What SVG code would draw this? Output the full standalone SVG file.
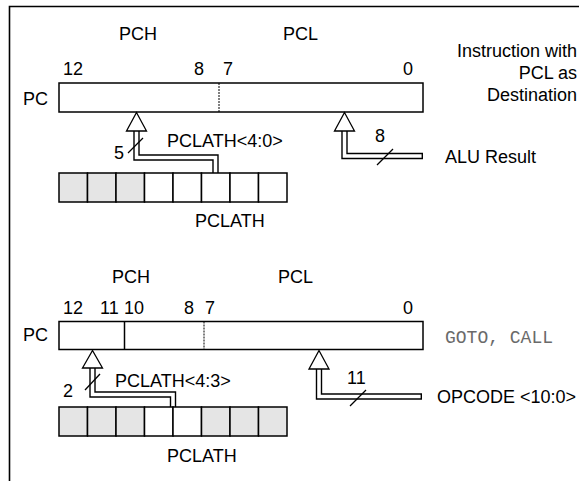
<svg xmlns="http://www.w3.org/2000/svg" width="579" height="481" viewBox="0 0 579 481">
<style>
text{font-family:"Liberation Sans",Arial,sans-serif;font-size:18px;fill:#000}
.mono{font-family:"Liberation Mono","Courier New",monospace;font-size:18px;fill:#6a6a6a}
.box{fill:#fff;stroke:#000;stroke-width:1.5}
.g{fill:#e5e5e5;stroke:#000;stroke-width:1.5}
.w{fill:#fff;stroke:#000;stroke-width:1.5}
.dash{stroke:#000;stroke-width:1;stroke-dasharray:2 1}
.busO{fill:none;stroke:#000;stroke-width:6.4;stroke-linejoin:miter}
.busI{fill:none;stroke:#fff;stroke-width:3.6;stroke-linejoin:miter}
.tri{fill:#fff;stroke:#000;stroke-width:1.3;stroke-linejoin:miter}
.sl{stroke:#000;stroke-width:1.3}
.frame{stroke:#000;stroke-width:1.6;fill:none}
</style>
<path class="frame" d="M9.5,481 V6.5 H579"/>

<g id="top-labels">
<text x="119" y="40">PCH</text>
<text x="283" y="40">PCL</text>
<text x="63" y="75">12</text>
<text x="194" y="75">8</text>
<text x="223" y="75">7</text>
<text x="403" y="75">0</text>
<text x="23" y="105">PC</text>
<text x="577" y="57" text-anchor="end">Instruction with</text>
<text x="577" y="79" text-anchor="end">PCL as</text>
<text x="577" y="101" text-anchor="end">Destination</text>
</g>

<g id="pc-top">
<rect class="box" x="59" y="83" width="364" height="29"/>
<line class="dash" x1="219" y1="83" x2="219" y2="112"/>
</g>

<g id="connectors-top">
<path class="busO" d="M136.5,130 V157.5 H215.5 V173"/>
<path class="busI" d="M136.5,130 V157.5 H215.5 V173"/>
<polygon class="tri" points="136.5,112.5 126.5,131 146.5,131"/>
<line class="sl" x1="128" y1="153" x2="143" y2="138"/>
<path class="busO" d="M344.5,130 V156 H423"/>
<path class="busI" d="M344.5,130 V156 H421.6"/>
<polygon class="tri" points="344.5,112.5 334.5,131 354.5,131"/>
<line class="sl" x1="377" y1="165" x2="393" y2="149"/>
</g>

<g id="pclath-top">
<rect class="g" x="59" y="173" width="28.5" height="29"/>
<rect class="g" x="87.5" y="173" width="28.5" height="29"/>
<rect class="g" x="116" y="173" width="28.5" height="29"/>
<rect class="w" x="144.5" y="173" width="28.5" height="29"/>
<rect class="w" x="173" y="173" width="28.5" height="29"/>
<rect class="w" x="201.5" y="173" width="28.5" height="29"/>
<rect class="w" x="230" y="173" width="28.5" height="29"/>
<rect class="w" x="258.5" y="173" width="28.5" height="29"/>
</g>

<g id="top-bus-labels">
<text x="114" y="159">5</text>
<text x="167" y="147">PCLATH&lt;4:0&gt;</text>
<text x="375" y="142">8</text>
<text x="445" y="163">ALU Result</text>
<text x="195" y="227">PCLATH</text>
</g>

<g id="bottom-labels">
<text x="112" y="283">PCH</text>
<text x="278" y="283">PCL</text>
<text x="63" y="314">12</text>
<text x="100" y="314">11</text>
<text x="124" y="314">10</text>
<text x="184" y="314">8</text>
<text x="205" y="314">7</text>
<text x="403" y="314">0</text>
<text x="23" y="341">PC</text>
<text class="mono" x="445" y="343">GOTO, CALL</text>
</g>

<g id="pc-bottom">
<rect class="box" x="59" y="321.5" width="364" height="28"/>
<line x1="124.5" y1="321.5" x2="124.5" y2="349.5" stroke="#000" stroke-width="1.5"/>
<line class="dash" x1="204" y1="321.5" x2="204" y2="349.5"/>
</g>

<g id="connectors-bottom">
<path class="busO" d="M92.5,367 V394.5 H173 V407"/>
<path class="busI" d="M92.5,367 V394.5 H173 V407"/>
<polygon class="tri" points="92.5,350.5 82.5,368 102.5,368"/>
<line class="sl" x1="85" y1="390" x2="100" y2="374"/>
<path class="busO" d="M319,368 V396.5 H422"/>
<path class="busI" d="M319,368 V396.5 H420.6"/>
<polygon class="tri" points="319,350.5 309,369 329,369"/>
<line class="sl" x1="350" y1="406" x2="366" y2="390"/>
</g>

<g id="pclath-bottom">
<rect class="g" x="59" y="407" width="28.5" height="29"/>
<rect class="g" x="87.5" y="407" width="28.5" height="29"/>
<rect class="g" x="116" y="407" width="28.5" height="29"/>
<rect class="w" x="144.5" y="407" width="28.5" height="29"/>
<rect class="w" x="173" y="407" width="28.5" height="29"/>
<rect class="g" x="201.5" y="407" width="28.5" height="29"/>
<rect class="g" x="230" y="407" width="28.5" height="29"/>
<rect class="g" x="258.5" y="407" width="28.5" height="29"/>
</g>

<g id="bottom-bus-labels">
<text x="63" y="397">2</text>
<text x="115" y="387">PCLATH&lt;4:3&gt;</text>
<text x="347" y="384">11</text>
<text x="437" y="403">OPCODE &lt;10:0&gt;</text>
<text x="167" y="462">PCLATH</text>
</g>
</svg>
